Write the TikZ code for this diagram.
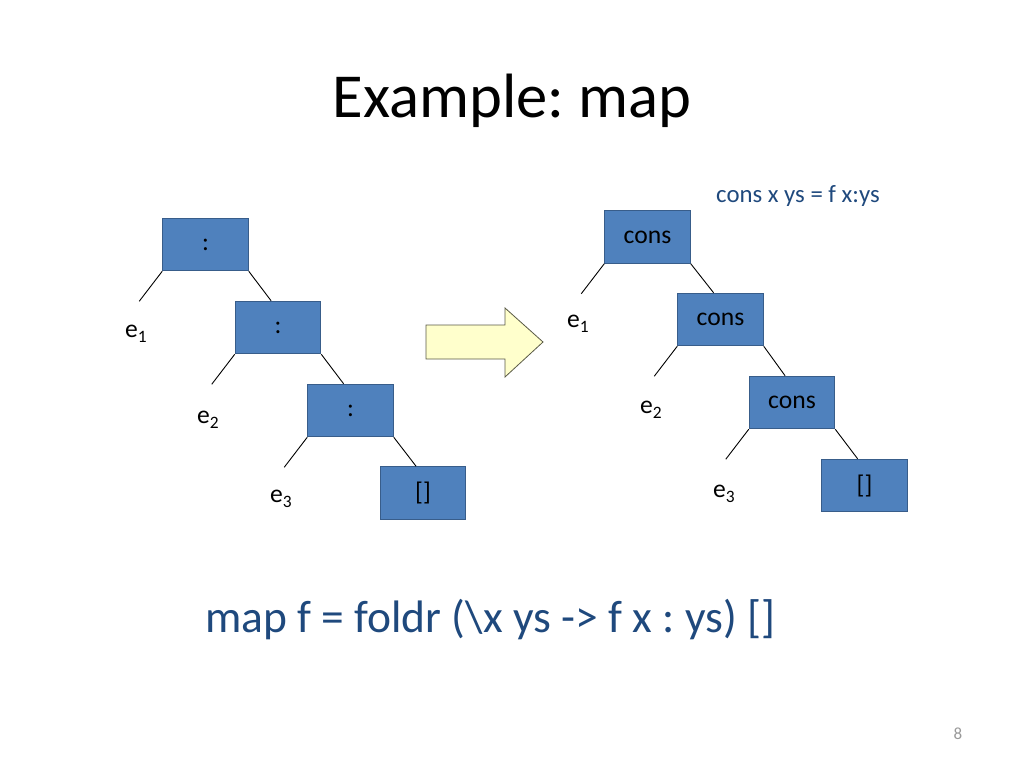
\documentclass[tikz,border=0pt]{standalone}
\usepackage{fontspec}
\setmainfont{Carlito}
\frenchspacing
\definecolor{boxblue}{RGB}{79, 129, 189}
\definecolor{boxedge}{RGB}{56, 93, 138}
\definecolor{codeblue}{RGB}{31, 73, 125}
\definecolor{arrowfill}{RGB}{255, 255, 204}
\definecolor{arrowedge}{RGB}{90, 90, 70}
\usetikzlibrary{positioning, calc}
\newcommand{\elabel}[1]{e\raisebox{-5.5pt}{\fontsize{17.4}{18}\selectfont #1}}

\begin{document}
\begin{tikzpicture}[x=1pt, y=-1pt,
  cell/.style={draw=boxedge, fill=boxblue, line width=1pt, minimum width=85.5pt, minimum height=52.5pt, inner sep=0pt, font=\fontsize{25.6}{30}\selectfont},
  leaf/.style={anchor=base west, inner sep=0pt, font=\fontsize{25.6}{30}\selectfont},
  branch/.style={line width=0.9pt}]
  \useasboundingbox (0,0) rectangle (1024,768);

  \node[anchor=base, inner sep=0pt, font=\fontsize{62.6}{70}\selectfont] (title) at (512,117) {Example: map};

  % list built with (:)
  \node[cell] (l1) at (205.5,244.5) {\raisebox{-2pt}{:}};
  \node[cell] (l2) at (278,327.5) {\raisebox{-2pt}{:}};
  \node[cell] (l3) at (350.5,410.5) {\raisebox{-2pt}{:}};
  \node[cell] (l4) at (423,493) {\raisebox{-2pt}{[]}};
  \node[leaf] (le1) at (125,337) {\elabel{1}};
  \node[leaf] (le2) at (197,423) {\elabel{2}};
  \node[leaf] (le3) at (270,502) {\elabel{3}};

  \draw[fill=arrowfill, draw=arrowedge, line width=0.8pt] (426,325) -- (505,325) -- (505,308) -- (543,342) -- (505,377) -- (505,359) -- (426,359) -- cycle;

  % same list after foldr
  \node[anchor=base west, inner sep=0pt, text=codeblue, font=\fontsize{24.8}{28}\selectfont] (rule) at (716,202) {cons x ys = f x:ys};
  \node[cell] (r1) at (647.5,237) {cons};
  \node[cell] (r2) at (720.5,319.5) {cons};
  \node[cell] (r3) at (792,402.5) {cons};
  \node[cell] (r4) at (864.5,485.5) {\raisebox{-2pt}{[]}};
  \node[leaf] (re1) at (567,327) {\elabel{1}};
  \node[leaf] (re2) at (640,413) {\elabel{2}};
  \node[leaf] (re3) at (713,497) {\elabel{3}};

  \foreach \a/\b in {l1/l2, l2/l3, l3/l4, r1/r2, r2/r3, r3/r4} {
    \draw[branch] (\a.south west) -- ++(-23,30) coordinate (\a end);
    \draw[branch] (\a.south east) -- ($(\b.north west)!0.42!(\b.north east)$);
  }

  \node[anchor=base west, inner sep=0pt, text=codeblue, font=\fontsize{45.5}{50}\selectfont] (defn) at (205,632) {map f = foldr (\textbackslash x ys -> f x : ys) []};
  \node[text=gray!80, font=\fontsize{17}{20}\selectfont] (pagenum) at (958,734) {8};
\end{tikzpicture}
\end{document}
